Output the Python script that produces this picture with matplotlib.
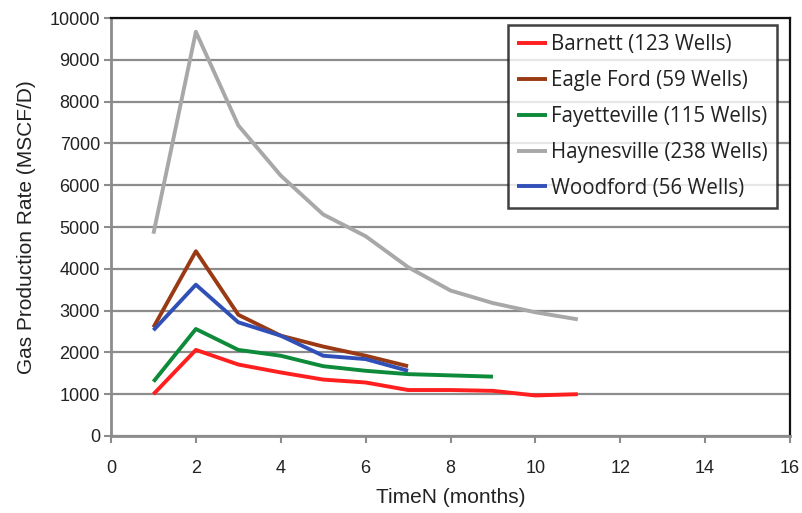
import matplotlib
matplotlib.use("Agg")
import matplotlib.pyplot as plt

months_long = [1, 2, 3, 4, 5, 6, 7, 8, 9, 10, 11]
months_9 = [1, 2, 3, 4, 5, 6, 7, 8, 9]
months_7 = [1, 2, 3, 4, 5, 6, 7]

barnett = [1000, 2060, 1710, 1520, 1350, 1280, 1100, 1100, 1080, 970, 1000]
eagle_ford = [2600, 4420, 2900, 2400, 2140, 1920, 1670]
fayetteville = [1300, 2560, 2060, 1920, 1670, 1560, 1480, 1450, 1420]
haynesville = [4840, 9670, 7430, 6230, 5300, 4780, 4040, 3480, 3180, 2960, 2790]
woodford = [2530, 3620, 2720, 2400, 1920, 1840, 1560]

labels = ["Barnett (123 Wells)", "Eagle Ford (59 Wells)", "Fayetteville (115 Wells)",
          "Haynesville (238 Wells)", "Woodford (56 Wells)"]
colors = ["#ff1f1f", "#9a3a14", "#0d8a3a", "#a8a8a8", "#3050b8"]

x_ticks = [0, 2, 4, 6, 8, 10, 12, 14, 16]
y_ticks = [0, 1000, 2000, 3000, 4000, 5000, 6000, 7000, 8000, 9000, 10000]

plt.rcParams['font.family'] = ['Liberation Sans Narrow', 'Liberation Sans', 'DejaVu Sans']

fig = plt.figure(figsize=(8.02, 5.13), dpi=100)
ax = fig.add_axes([111/802, 77/513, 679/802, 418/513])

series = [(months_long, barnett), (months_7, eagle_ford), (months_9, fayetteville),
          (months_long, haynesville), (months_7, woodford)]
for (xs, ys), lab, c in zip(series, labels, colors):
    ax.plot(xs, ys, color=c, lw=2.8, label=lab, solid_capstyle='butt')

ax.set_xlim(0, 16)
ax.set_ylim(0, 10000)
ax.set_xticks(x_ticks)
ax.set_yticks(y_ticks)
ax.grid(axis='y', color='#8c8c8c', lw=1.6)
ax.set_axisbelow(True)

for s in ['left', 'bottom']:
    ax.spines[s].set_color('#8c8c8c')
    ax.spines[s].set_linewidth(2)
for s in ['top', 'right']:
    ax.spines[s].set_color('#111111')
    ax.spines[s].set_linewidth(1.6)

ax.tick_params(axis='both', direction='out', length=5, width=1.5, color='#8c8c8c',
               labelsize=13, labelcolor='#222222')
ax.tick_params(axis='x', pad=12)
ax.tick_params(axis='y', pad=3)

ax.set_xlabel("TimeN (months)", fontsize=15, color='#222222', labelpad=8)
ax.set_ylabel("Gas Production Rate (MSCF/D)", fontsize=15, color='#222222', labelpad=10)

leg = ax.legend(loc='upper right', bbox_to_anchor=(0.981, 0.983), frameon=True,
                fancybox=False, edgecolor='#111111',
                prop={'family': ['Open Sans', 'DejaVu Sans'], 'size': 14.8},
                handlelength=1.45, handletextpad=0.2, labelspacing=0.72,
                borderpad=0.45, borderaxespad=0)
leg.get_frame().set_linewidth(1.8)
for t in leg.get_texts():
    t.set_color('#222222')

fig.savefig("out.png", dpi=100)
